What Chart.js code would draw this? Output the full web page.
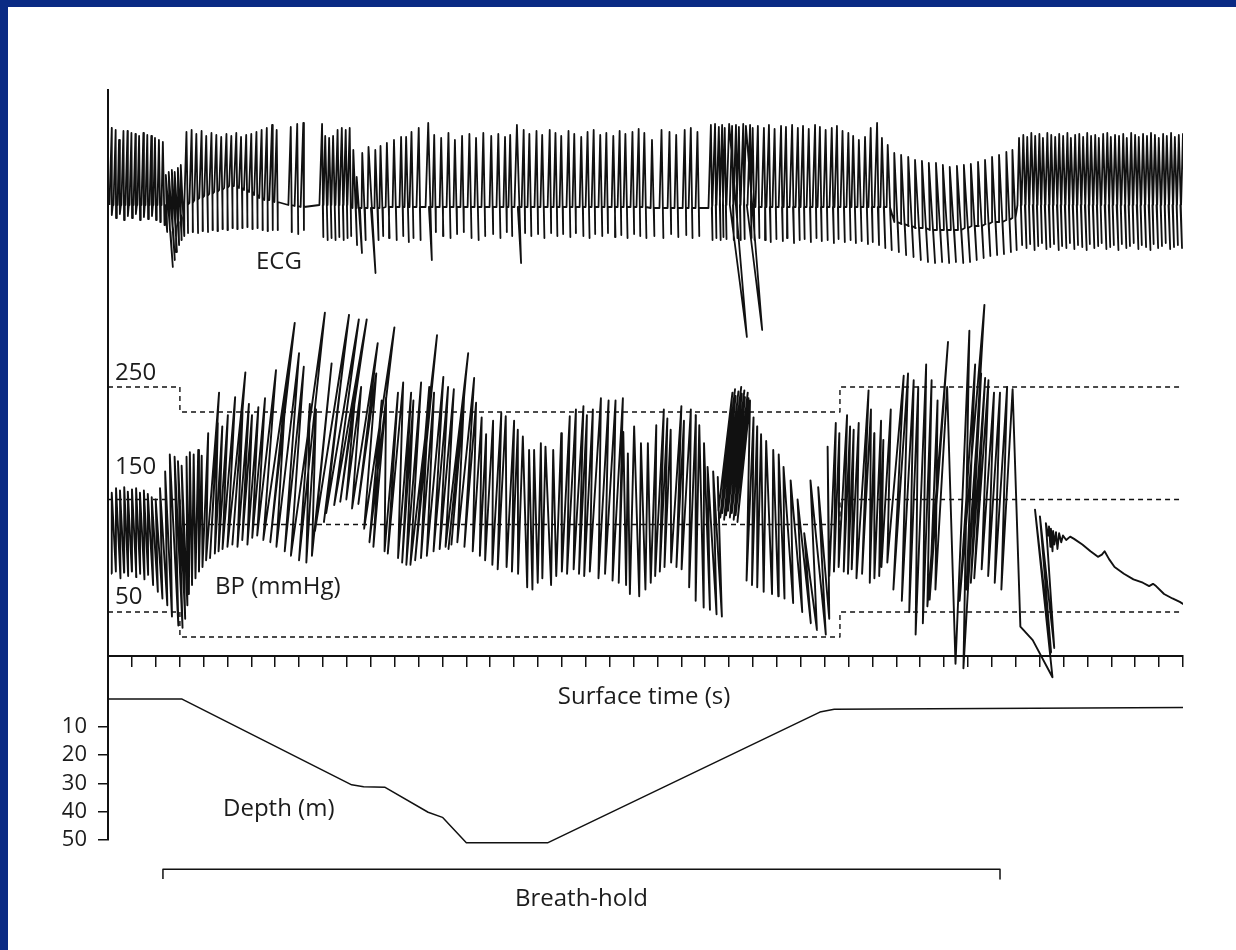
<!DOCTYPE html>
<html>
<head>
<meta charset="utf-8">
<title>Breath-hold dive: ECG, blood pressure and depth</title>
<script src="https://cdn.jsdelivr.net/npm/chart.js@4.4.1/dist/chart.umd.min.js"></script>
<style>
  html, body { margin: 0; padding: 0; background: #0a2a84; }
  #paper { position: absolute; left: 8px; top: 7px; right: 0; bottom: 0; background: #fff; }
  #chart { position: absolute; left: 0; top: 0; }
</style>
</head>
<body>
<div id="paper"></div>
<canvas id="chart" width="1236" height="950"></canvas>
<script>
// ---- data (time in axis ticks, one tick = 1 s) ----

// ECG: one entry per beat -> onset time, R peak, S trough, baseline (mV)
const ecgTime = [
  0.04,0.21,0.38,0.54,0.71,0.88,1.05,1.21,1.38,1.55,1.72,1.88,2.05,2.22,
  2.39,2.51,2.64,2.76,2.89,3.01,
  3.18,3.39,3.60,3.81,4.02,4.23,4.44,4.65,4.86,5.07,5.27,5.48,5.69,5.90,6.11,6.32,6.53,
  6.74,6.95,7.53,7.79,8.04,
  8.83,9.00,9.17,9.33,9.50,9.67,9.84,10.00,
  10.21,10.38,10.59,10.84,11.13,11.34,
  11.60,11.89,12.18,12.39,12.60,12.89,13.27,
  13.56,13.86,14.15,14.44,14.73,15.03,15.32,15.61,15.95,16.24,16.53,16.74,16.99,
  17.29,17.54,17.83,18.08,18.38,18.63,18.88,19.17,19.42,19.72,19.97,20.22,20.51,20.76,21.06,21.31,21.56,21.85,22.10,22.35,
  22.69,23.06,23.40,23.69,24.03,24.28,24.57,25.11,
  25.28,25.45,25.58,25.70,25.87,26.00,26.16,26.29,26.46,26.58,26.75,26.87,
  27.08,27.34,27.54,27.79,28.05,28.26,28.51,28.76,28.97,29.22,29.47,29.68,29.93,30.18,30.39,30.64,30.89,31.10,31.35,31.60,31.81,32.06,32.31,32.57,
  32.86,33.15,33.45,33.74,34.03,34.32,34.62,34.91,35.20,35.50,35.79,36.08,36.38,36.67,36.96,37.25,37.55,37.80,
  38.05,38.22,38.39,38.55,38.72,38.89,39.05,39.22,39.39,39.56,39.72,39.89,40.06,40.22,40.39,40.56,40.73,40.89,41.06,41.23,41.39,
  41.56,41.73,41.89,42.06,42.23,42.40,42.56,42.73,42.90,43.06,43.23,43.40,43.56,43.73,43.90,44.07,44.23,44.40,44.57,44.73,44.90
];
const ecgR = [
  1.64,1.60,1.40,1.58,1.58,1.54,1.52,1.48,1.54,1.50,1.48,1.44,1.40,1.36,
  0.70,0.76,0.80,0.76,0.84,0.90,
  1.56,1.60,1.52,1.58,1.48,1.54,1.50,1.46,1.52,1.48,1.54,1.46,1.50,1.52,1.56,1.60,1.64,
  1.70,1.60,1.66,1.72,1.74,
  1.72,1.48,1.44,1.48,1.60,1.64,1.60,1.64,
  1.20,0.66,1.14,1.26,1.20,1.28,
  1.34,1.40,1.46,1.46,1.56,1.64,1.74,
  1.50,1.44,1.54,1.40,1.48,1.52,1.44,1.54,1.48,1.52,1.46,1.50,1.70,
  1.60,1.52,1.58,1.50,1.60,1.54,1.48,1.58,1.52,1.46,1.56,1.60,1.50,1.54,1.48,1.58,1.52,1.56,1.62,1.54,
  1.40,1.60,1.56,1.50,1.60,1.64,1.56,1.70,
  1.72,1.66,1.70,1.64,1.72,1.68,1.70,1.66,1.72,1.68,1.70,1.64,
  1.68,1.64,1.70,1.62,1.68,1.66,1.70,1.64,1.68,1.62,1.70,1.66,1.60,1.64,1.68,1.58,1.54,1.48,1.40,1.46,1.64,1.74,1.44,1.30,
  1.14,1.10,1.06,1.00,0.98,0.94,0.94,0.90,0.86,0.88,0.90,0.92,0.96,1.00,1.06,1.10,1.16,1.20,
  1.44,1.50,1.46,1.54,1.48,1.52,1.44,1.54,1.50,1.46,1.52,1.48,1.54,1.44,1.50,1.52,1.46,1.54,1.48,1.50,1.44,
  1.52,1.54,1.46,1.50,1.48,1.52,1.44,1.54,1.50,1.46,1.52,1.48,1.54,1.50,1.44,1.52,1.48,1.54,1.46,1.50,1.52
];
const ecgS = [
  -0.10,-0.16,-0.08,-0.20,-0.12,-0.16,-0.08,-0.20,-0.14,-0.18,-0.12,-0.20,-0.24,-0.30,
  -1.14,-1.00,-0.84,-0.70,-0.60,-0.52,
  -0.46,-0.44,-0.46,-0.42,-0.44,-0.40,-0.42,-0.38,-0.40,-0.36,-0.38,-0.36,-0.34,-0.38,-0.36,-0.40,-0.42,
  -0.40,-0.40,-0.44,-0.48,-0.40,
  -0.54,-0.60,-0.56,-0.60,-0.54,-0.60,-0.56,-0.52,
  -0.70,-0.86,-0.60,-1.26,-0.60,-0.52,
  -0.56,-0.60,-0.52,-0.64,-0.56,-0.60,-1.00,
  -0.44,-0.52,-0.56,-0.48,-0.44,-0.56,-0.60,-0.52,-0.48,-0.56,-0.44,-0.52,-1.06,
  -0.46,-0.52,-0.48,-0.56,-0.46,-0.52,-0.48,-0.54,-0.46,-0.52,-0.56,-0.48,-0.52,-0.46,-0.54,-0.50,-0.56,-0.48,-0.52,-0.56,
  -0.52,-0.56,-0.48,-0.54,-0.50,-0.56,-0.52,-0.60,
  -0.56,-0.60,-0.54,-0.58,-2.54,-0.60,-0.56,-0.60,-0.58,-2.40,-0.56,-0.60,
  -0.56,-0.60,-0.64,-0.58,-0.62,-0.56,-0.66,-0.60,-0.58,-0.64,-0.56,-0.62,-0.60,-0.66,-0.58,-0.64,-0.60,-0.66,-0.62,-0.68,-0.64,-0.70,-0.76,-0.80,
  -0.84,-0.90,-0.94,-1.00,-1.04,-1.06,-1.04,-1.06,-1.04,-1.06,-1.04,-1.00,-0.96,-0.92,-0.90,-0.88,-0.84,-0.80,
  -0.70,-0.76,-0.68,-0.80,-0.72,-0.66,-0.78,-0.74,-0.68,-0.80,-0.72,-0.76,-0.66,-0.78,-0.70,-0.74,-0.80,-0.68,-0.76,-0.72,-0.66,
  -0.78,-0.74,-0.70,-0.80,-0.68,-0.76,-0.72,-0.66,-0.78,-0.70,-0.74,-0.80,-0.68,-0.76,-0.72,-0.66,-0.78,-0.74,-0.70,-0.76,-0.72
];
const ecgBase = [
  0.10,0.10,0.10,0.10,0.10,0.10,0.10,0.10,0.10,0.10,0.10,0.10,0.10,0.10,
  -0.44,-0.40,-0.32,-0.24,-0.16,-0.08,
  0.10,0.14,0.20,0.24,0.28,0.32,0.36,0.40,0.44,0.48,0.48,0.44,0.40,0.36,0.30,0.24,0.20,
  0.20,0.16,0.10,0.08,0.06,
  0.10,0.10,0.10,0.10,0.10,0.10,0.10,0.10,
  0.04,0.04,0.04,0.04,0.04,0.04,
  0.06,0.06,0.06,0.06,0.06,0.06,0.06,
  0.06,0.06,0.06,0.06,0.06,0.06,0.06,0.06,0.06,0.06,0.06,0.06,0.06,
  0.06,0.06,0.06,0.06,0.06,0.06,0.06,0.06,0.06,0.06,0.06,0.06,0.06,0.06,0.06,0.06,0.06,0.06,0.06,0.06,
  0.04,0.04,0.04,0.04,0.04,0.04,0.04,0.04,
  0.10,0.10,0.10,0.10,0.10,0.10,0.10,0.10,0.10,0.10,0.10,0.10,
  0.06,0.06,0.06,0.06,0.06,0.06,0.06,0.06,0.06,0.06,0.06,0.06,0.06,0.06,0.06,0.06,0.06,0.06,0.06,0.06,0.06,0.06,0.06,0.06,
  -0.24,-0.28,-0.32,-0.36,-0.36,-0.40,-0.40,-0.40,-0.40,-0.40,-0.36,-0.32,-0.32,-0.28,-0.24,-0.24,-0.20,-0.16,
  0.10,0.10,0.10,0.10,0.10,0.10,0.10,0.10,0.10,0.10,0.10,0.10,0.10,0.10,0.10,0.10,0.10,0.10,0.10,0.10,0.10,
  0.10,0.10,0.10,0.10,0.10,0.10,0.10,0.10,0.10,0.10,0.10,0.10,0.10,0.10,0.10,0.10,0.10,0.10,0.10,0.10,0.10
];

// arterial pressure: one entry per beat -> onset time, systolic, diastolic (mmHg)
const bpTime = [
  0.08,0.25,0.42,0.59,0.75,0.92,1.09,1.26,1.42,1.59,1.76,1.93,2.09,
  2.26,2.39,2.60,2.76,2.93,3.10,3.22,3.39,3.56,3.73,
  3.89,4.06,4.23,4.44,4.60,4.77,4.98,5.19,5.40,5.61,5.82,
  6.03,6.24,6.49,6.78,7.03,7.37,7.62,7.95,8.25,8.50,
  8.66,9.04,9.13,9.46,9.71,9.96,10.21,10.47,10.72,10.93,11.09,11.55,11.68,12.10,12.26,12.43,12.60,12.81,13.06,13.31,
  13.60,13.86,14.11,14.23,14.36,14.61,14.90,
  15.24,15.53,15.74,16.03,16.24,16.62,16.83,17.08,17.41,17.62,17.87,18.08,18.42,18.67,18.92,19.13,19.42,19.63,19.84,20.09,
  20.43,20.72,21.01,21.26,21.56,21.68,22.06,22.35,22.60,22.81,23.02,23.23,23.52,23.73,23.94,24.19,24.40,24.70,24.95,25.20,25.41,
  25.55,25.63,25.71,25.79,25.87,25.95,26.03,26.11,26.19,26.27,26.35,
  26.62,26.83,27.04,27.29,27.63,27.88,28.13,28.47,28.80,29.09,29.30,29.64,
  29.89,30.10,30.31,30.52,30.72,30.89,31.06,31.23,31.48,31.77,31.98,32.19,32.31,32.57,32.73,33.03,33.28,33.40,33.78,34.07,
  34.20,34.49,34.83,35.12,35.45,35.79,36.00,36.16,36.50,36.75,37.00,37.25
];
const bpSys = [
  156,160,158,161,157,159,160,156,158,155,152,150,160,
  175,190,188,184,180,188,192,190,194,189,
  209,245,218,215,225,241,263,228,235,225,232,
  240,265,307,255,280,268,316,235,230,271,
  314,260,310,310,255,250,289,262,303,238,241,245,254,245,238,254,296,250,245,259,
  250,248,280,262,240,258,236,
  223,208,220,227,224,220,212,206,194,194,200,197,194,209,224,230,233,225,230,240,
  238,238,240,210,191,215,200,200,216,230,222,212,233,220,230,225,216,200,179,175,170,
  245,248,242,246,250,244,247,241,245,240,238,
  223,215,208,202,194,190,179,167,150,120,167,161,
  197,218,209,225,215,212,218,247,230,209,220,203,230,260,262,256,250,270,256,290,
  238,250,300,323,270,262,258,256,245,245,250,248
];
const bpDia = [
  84,86,80,85,82,86,81,84,79,83,74,68,62,
  56,46,38,36,44,56,66,74,80,86,
  90,96,98,102,104,106,108,110,108,114,110,
  116,118,114,112,108,104,100,96,94,100,
  122,130,138,145,148,150,142,146,124,112,108,104,102,98,94,92,92,96,98,100,
  104,106,108,106,110,112,108,
  104,100,96,92,88,90,86,84,72,70,76,80,74,82,86,84,88,84,82,86,
  80,84,78,76,74,66,64,70,76,82,86,90,94,90,88,72,60,54,52,48,46,
  140,134,138,132,136,140,134,138,132,136,130,
  78,74,72,68,66,64,62,58,50,40,34,30,
  44,82,86,90,86,84,88,80,84,76,80,82,90,94,70,60,50,30,40,55,
  61,70,4,0,60,70,76,80,88,82,76,70
];
// pressure after surfacing (continuous trace)
const bpTailTime = [37.84,38.26,38.76,38.80,38.93,39.01,39.10,39.26,39.35,39.39,39.43,39.47,39.51,39.56,39.60,39.68,39.72,39.81,39.89,39.97,
  40.10,40.27,40.43,40.77,41.10,41.40,41.57,41.69,41.86,42.07,42.44,42.82,43.20,43.45,43.62,43.74,44.04,44.37,44.66,45.00];
const bpTailValue = [37,25,-8,141,14,135,18,129,118,126,108,124,104,122,110,121,106,120,112,118,
  114,117,115,110,104,99,101,104,97,90,84,79,76,73,75,73,66,62,59,54];

// reference levels on the pressure channel, shifted during the dive
const bpRefLevels = [250, 150, 50];
const bpRefLabelLift = [14, 32, 15];
const bpRefStepTimes = [3.01, 30.64];
const bpRefDrop = 22.2;

// dive profile
const depthTime   = [0, 3.1, 10.2, 10.7, 11.6, 13.4, 14.0, 15.0, 18.4, 29.8, 30.4, 45];
const depthMetres = [0.2, 0.2, 30.5, 31.2, 31.4, 40.2, 42.0, 51.0, 51.0, 4.8, 3.8, 3.2];
const depthTicks  = [10, 20, 30, 40, 50];

// breath-hold period
const breathHold = [2.30, 37.34];

// ---- geometry of the record ----
const AREA_W = 1075, AREA_H = 750;      // plot box in px (set by layout below)
const TIME_RANGE  = [0, 45];
const BP_RANGE    = [-152.7, 514];
const ECG_RANGE   = [-12.6, 2.4];
const DEPTH_RANGE = [-215, 50];
const TIME_AXIS_AT = 10.9;              // pressure value where the time axis sits
const BRACKET_DEPTH = 60.3, BRACKET_TICK = 3.5;

// the recorder used swinging pens: each point lies on an arc
const PEN_ARC = 1300;                   // 2 x pen arm length, px
const BP_PEN_CENTRE = 130;
const ECG_PEN_CENTRE = 0.6;

function arcShift(v, centre, range) {
  const dy = (v - centre) * AREA_H / (range[1] - range[0]);
  return dy * dy / PEN_ARC * (TIME_RANGE[1] - TIME_RANGE[0]) / AREA_W;
}

const ecgPoints = [];
ecgTime.forEach((t, i) => {
  [[0, ecgBase[i]], [0.03, ecgR[i]], [0.08, ecgS[i]], [0.14, ecgBase[i]]].forEach(([dt, v]) => {
    ecgPoints.push({ x: t + dt + arcShift(v, ECG_PEN_CENTRE, ECG_RANGE), y: v });
  });
});

const bpPoints = [];
bpTime.forEach((t, i) => {
  bpPoints.push({ x: t + arcShift(bpDia[i], BP_PEN_CENTRE, BP_RANGE), y: bpDia[i] });
  bpPoints.push({ x: t + 0.05 + arcShift(bpSys[i], BP_PEN_CENTRE, BP_RANGE), y: bpSys[i] });
});
bpTailTime.forEach((t, i) => {
  bpPoints.push({ x: t + arcShift(bpTailValue[i], BP_PEN_CENTRE, BP_RANGE), y: bpTailValue[i] });
});

const ink = '#111';
const trace = { borderColor: ink, borderWidth: 1.9, pointRadius: 0, tension: 0, borderJoinStyle: 'round', fill: false };

const refSets = bpRefLevels.map(level => ({
  ...trace,
  borderWidth: 1.4,
  borderDash: [5, 4],
  stepped: 'before',
  yAxisID: 'yBp',
  data: [
    { x: TIME_RANGE[0], y: level },
    { x: bpRefStepTimes[0], y: level - bpRefDrop },
    { x: bpRefStepTimes[1], y: level },
    { x: TIME_RANGE[1], y: level }
  ]
}));

const labels = {
  id: 'labels',
  afterDraw(chart) {
    const { ctx, scales } = chart;
    ctx.save();
    ctx.fillStyle = '#1c1c1c';
    ctx.font = '24px "Open Sans"';
    ctx.textBaseline = 'middle';
    ctx.textAlign = 'left';
    bpRefLevels.forEach((level, i) => {
      ctx.fillText(String(level), 115, scales.yBp.getPixelForValue(level) - bpRefLabelLift[i]);
    });
    ctx.fillText('ECG', 256, 262);
    ctx.fillText('BP (mmHg)', 215, 587);
    ctx.fillText('Depth (m)', 223, 809);
    ctx.textAlign = 'center';
    ctx.fillText('Surface time (s)', 644, 697);
    const midHold = scales.x.getPixelForValue((breathHold[0] + breathHold[1]) / 2);
    ctx.fillText('Breath-hold', midHold, 899);
    ctx.restore();
  }
};

Chart.defaults.font.family = '"Open Sans", sans-serif';

new Chart(document.getElementById('chart'), {
  type: 'line',
  data: {
    datasets: [
      { ...trace, borderWidth: 1.8, yAxisID: 'yEcg', data: ecgPoints },
      { ...trace, yAxisID: 'yBp', data: bpPoints },
      ...refSets,
      { ...trace, borderWidth: 1.5, yAxisID: 'yDepth', clip: false, data: depthTime.map((t, i) => ({ x: t, y: depthMetres[i] })) },
      { ...trace, borderWidth: 1.5, yAxisID: 'yDepth', clip: false, data: [
        { x: breathHold[0], y: BRACKET_DEPTH + BRACKET_TICK },
        { x: breathHold[0], y: BRACKET_DEPTH },
        { x: breathHold[1], y: BRACKET_DEPTH },
        { x: breathHold[1], y: BRACKET_DEPTH + BRACKET_TICK }
      ] }
    ]
  },
  options: {
    responsive: false,
    animation: false,
    events: [],
    layout: { padding: { top: 90, bottom: 110, left: 0, right: 53 } },
    plugins: { legend: { display: false }, tooltip: { enabled: false } },
    scales: {
      x: { type: 'linear', min: TIME_RANGE[0], max: TIME_RANGE[1], display: false },
      xTime: {
        type: 'linear', axis: 'x', min: TIME_RANGE[0], max: TIME_RANGE[1],
        position: { yBp: TIME_AXIS_AT },
        grid: { drawOnChartArea: false, tickLength: 10, color: ink, lineWidth: 1.5 },
        border: { color: ink, width: 2 },
        ticks: { display: false, stepSize: 1, maxTicksLimit: 100 },
        afterFit: s => { s.height = 0; }
      },
      yDepth: {
        type: 'linear', position: 'left', reverse: true,
        min: DEPTH_RANGE[0], max: DEPTH_RANGE[1],
        afterBuildTicks: s => { s.ticks = depthTicks.map(v => ({ value: v })); },
        grid: { drawOnChartArea: false, tickLength: 10, color: ink, lineWidth: 1.5 },
        border: { color: ink, width: 2 },
        ticks: { autoSkip: false, padding: 11, color: '#1c1c1c', font: { size: 22 } },
        afterFit: s => { s.width = 108; }
      },
      yBp: { type: 'linear', min: BP_RANGE[0], max: BP_RANGE[1], display: false },
      yEcg: { type: 'linear', min: ECG_RANGE[0], max: ECG_RANGE[1], display: false }
    }
  },
  plugins: [labels]
});
</script>
</body>
</html>
